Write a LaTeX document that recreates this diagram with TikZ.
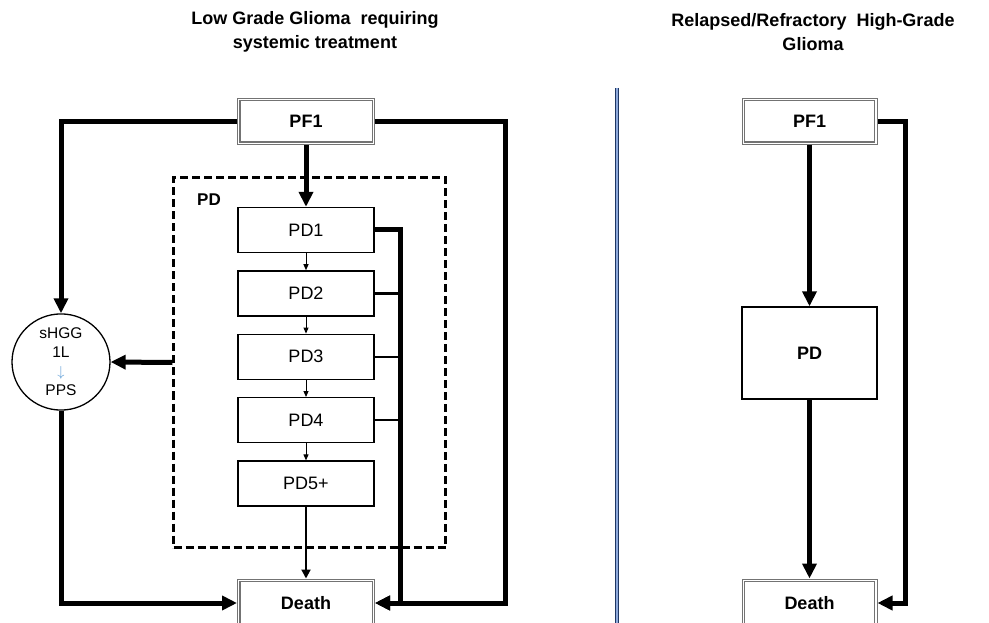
\documentclass[tikz,border=0pt]{standalone}
\usepackage{fontspec}
\setmainfont{Liberation Sans}
\usetikzlibrary{arrows.meta, positioning, shapes.geometric}
\definecolor{sepnavy}{HTML}{1F3864}
\definecolor{seplight}{HTML}{8EA9DB}
\definecolor{arrblue}{HTML}{5B9BD5}

\begin{document}
\begin{tikzpicture}[x=1pt, y=-1pt,
   font=\fontsize{18}{22}\selectfont,
   node distance=17pt,
   ttl/.style={align=center, font=\fontsize{18}{24}\selectfont\bfseries},
   dbox/.style={rectangle, draw=black!55, line width=1pt, minimum width=135pt,
                minimum height=46pt, inner sep=0pt,
                font=\fontsize{18}{22}\selectfont\bfseries,
                path picture={\draw[line width=1.2pt]
                  ([shift={(2.4pt,2.4pt)}]path picture bounding box.south west) rectangle
                  ([shift={(-2.4pt,-2.4pt)}]path picture bounding box.north east);}},
   pdbox/.style={rectangle, draw, line width=1.4pt, minimum width=136pt,
                 minimum height=45pt, inner sep=0pt},
   grp/.style={rectangle, draw, line width=2.4pt, dash pattern=on 8pt off 4pt,
               minimum width=272pt, minimum height=370pt},
   ovl/.style={ellipse, draw, line width=1.3pt, minimum width=98pt,
               minimum height=88pt, inner sep=0pt, align=center,
               font=\fontsize{15.5}{19}\selectfont},
   thk/.style={-{Triangle[length=15pt, width=14pt]}, line width=5pt},
   mid/.style={-{Triangle[length=9pt, width=9pt]}, line width=2pt},
   thn/.style={-{Triangle[length=6pt, width=5pt]}, line width=1pt},
   sepline/.style={draw=sepnavy, line width=1.2pt, double=seplight, double distance=1.6pt}]
 \clip (0,0) rectangle (989,623);
 \node[ttl] (ttlL) at (315,32) {Low Grade Glioma\ \ requiring\\systemic treatment};
 \node[ttl] (ttlR) at (813,32) {Relapsed/Refractory\ \ High-Grade\\Glioma};
 \node[dbox, minimum width=137pt] (pf1) at (306,121.5) {PF1};
 \node[grp] (pdgrp) at (309.5,362.5) {};
 \node[font=\fontsize{17}{21}\selectfont\bfseries] (pdlbl) at (209,200) {PD};
 \node[pdbox] (pd1) at (306,230) {PD1};
 \node[pdbox, below=of pd1] (pd2) {PD2};
 \node[pdbox, below=of pd2] (pd3) {PD3};
 \node[pdbox, below=of pd3] (pd4) {PD4};
 \node[pdbox, below=of pd4] (pd5) {PD5+};
 \node[dbox, minimum width=137pt, minimum height=48pt] (death) at (306,603) {Death};
 \node[ovl] (shgg) at (61,362) {sHGG\\1L\\{\color{arrblue}$\downarrow$}\\PPS};
 \draw[thk] (pf1) -- (pd1);
 \draw[thn] (pd1) -- (pd2);
 \draw[thn] (pd2) -- (pd3);
 \draw[thn] (pd3) -- (pd4);
 \draw[thn] (pd4) -- (pd5);
 \draw[mid] (pd5) -- (death);
 \draw[thk] (pf1.west) -| (shgg.north);
 \draw[thk] (pdgrp.west) -- (shgg.east);
 \draw[thk] (shgg.south) |- (death.west);
 \draw[thk] (pf1.east) -- ++(130,0) |- (death.east);
 \draw[thk] (pd1.east) -- ++(26,0) |- (death.east);
 \draw[line width=2.5pt] (pd2.east) -- ++(26,0);
 \draw[line width=2.5pt] (pd3.east) -- ++(26,0);
 \draw[line width=2.5pt] (pd4.east) -- ++(26,0);
 \draw[sepline] (617,88) -- (617,630);
 \node[dbox] (pf1r) at (809.5,121.5) {PF1};
 \node[pdbox, minimum width=135pt, minimum height=92pt,
       font=\fontsize{18}{22}\selectfont\bfseries] (pdr) at (809.5,353) {PD};
 \node[dbox, minimum height=48pt] (deathr) at (809.5,603) {Death};
 \draw[thk] (pf1r) -- (pdr);
 \draw[thk] (pdr) -- (deathr);
 \draw[thk] (pf1r.east) -- ++(28,0) |- (deathr.east);
\end{tikzpicture}
\end{document}
